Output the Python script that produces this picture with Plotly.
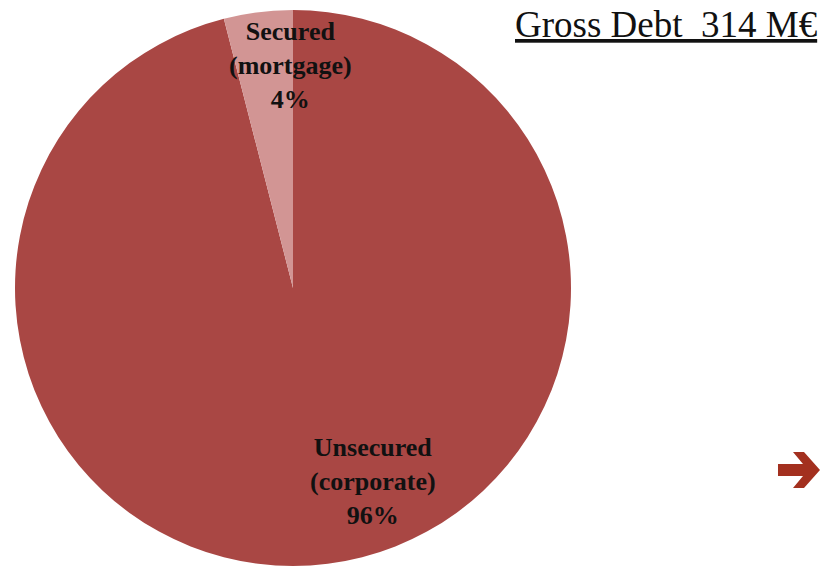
import plotly.graph_objects as go

# Data (listed clockwise from 12 o'clock)
labels = ["Unsecured<br>(corporate)", "Secured<br>(mortgage)"]
values = [96, 4]
colors = ["#A94744", "#D29594"]
title_text = "Gross Debt  314 M€"

W, H = 821, 566
SERIF = "Liberation Serif"

fig = go.Figure()
fig.add_trace(go.Pie(
    labels=labels,
    values=values,
    sort=False,
    direction="clockwise",
    rotation=0,
    marker=dict(colors=colors, line=dict(width=0)),
    textinfo="none",
    hoverinfo="label+percent",
    showlegend=False,
    domain=dict(x=[15 / W, 571 / W], y=[0, 1 - 10 / H]),
))

# slice labels (positions in pixels -> paper)
label_pos = [(373, 481), (290, 65)]
total = sum(values)
for lab, v, (px, py) in zip(labels, values, label_pos):
    fig.add_annotation(
        x=px / W, y=1 - py / H, xref="paper", yref="paper",
        text=f"<b>{lab}<br>{round(100 * v / total)}%</b>",
        showarrow=False, xanchor="center", yanchor="middle",
        font=dict(family=SERIF, size=26, color="#111111"),
    )

fig.add_annotation(
    x=819 / W, y=1 - 2 / H, xref="paper", yref="paper",
    text=f"<u>{title_text}</u>", showarrow=False,
    xanchor="right", yanchor="top",
    font=dict(family=SERIF, size=37, color="#111111"),
)

# decorative arrow (pixel outline -> paper coords)
arrow_px = [(778, 464), (803, 464), (793, 452), (804, 452), (820, 470),
            (804, 488), (793, 488), (803, 476), (778, 476)]
path = "M " + " L ".join(f"{x / W:.5f},{1 - y / H:.5f}" for x, y in arrow_px) + " Z"
fig.add_shape(type="path", path=path, xref="paper", yref="paper",
              fillcolor="#A3301F", line=dict(width=0))

fig.update_layout(
    width=W, height=H,
    margin=dict(l=0, r=0, t=0, b=0),
    paper_bgcolor="white", plot_bgcolor="white",
)

fig.write_html("out.html")
